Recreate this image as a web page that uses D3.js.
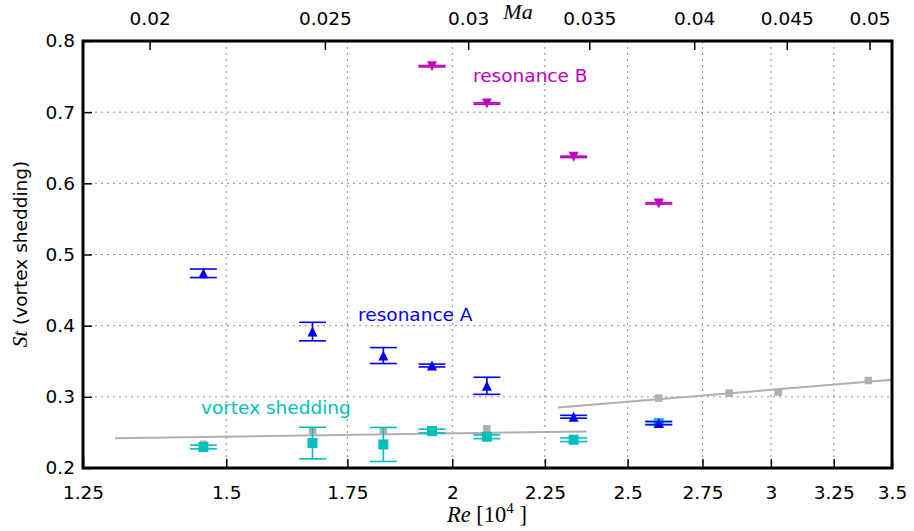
<!DOCTYPE html>
<html>
<head>
<meta charset="utf-8">
<script src="https://cdn.jsdelivr.net/npm/d3@7"></script>
<style>
  html, body { margin: 0; padding: 0; background: #fff; }
  svg { display: block; }
  .tick text { font-family: "DejaVu Sans", sans-serif; font-size: 18.5px; fill: #000; }
</style>
</head>
<body>
<svg id="chart" width="914" height="531"></svg>
<script>
// Reynolds numbers (x 10^4) of the measured cases
const reynolds = [1.457, 1.674, 1.832, 1.949, 2.090, 2.334, 2.601];

// Strouhal number of the vortex-shedding peak, with uncertainty
const stVortex  = [0.2295, 0.2351, 0.2331, 0.2519, 0.2439, 0.2397, 0.2631];
const errVortex = [0.0026, 0.0222, 0.0239, 0.0026, 0.0026, 0.0026, 0.0026];

// Resonance A
const stResA  = [0.4736, 0.3917, 0.3580, 0.3440, 0.3155, 0.2720, 0.2631];
const errResA = [0.0060, 0.0130, 0.0112, 0.0020, 0.0120, 0.0020, 0.0020];

// Resonance B (only the four higher Reynolds numbers)
const reynoldsB = [1.949, 2.090, 2.334, 2.601];
const stResB    = [0.7645, 0.7121, 0.6372, 0.5718];
const errResB   = [0.0010, 0.0010, 0.0010, 0.0010];

// Reference measurements and their linear trends
const reynoldsRef = [1.457, 1.674, 1.832, 2.090, 2.601, 2.845, 3.028, 3.396];
const stRef       = [0.2334, 0.2523, 0.2523, 0.2551, 0.2982, 0.3052, 0.3066, 0.3229];
const trendLowRe  = [1.302, 2.373];
const trendLowSt  = [0.2418, 0.2514];
const trendHighRe = [2.288, 3.5];
const trendHighSt = [0.2850, 0.3239];

// Axis ticks
const reTicks = [1.25, 1.5, 1.75, 2, 2.25, 2.5, 2.75, 3, 3.25, 3.5];
const reTickLabels = ["1.25", "1.5", "1.75", "2", "2.25", "2.5", "2.75", "3", "3.25", "3.5"];
const maTicks = [0.02, 0.025, 0.03, 0.035, 0.04, 0.045, 0.05];
const maTickLabels = ["0.02", "0.025", "0.03", "0.035", "0.04", "0.045", "0.05"];
const stTicks = [0.2, 0.3, 0.4, 0.5, 0.6, 0.7, 0.8];
const stTickLabels = ["0.2", "0.3", "0.4", "0.5", "0.6", "0.7", "0.8"];

// Mach number per unit Re[10^4]
const maPerRe = 0.0147;

// Curve annotations, placed in data units
const labelTexts = ["resonance B", "resonance A", "vortex shedding"];
const labelRe    = [2.0535, 1.7741, 1.4525];
const labelSt    = [0.742, 0.4067, 0.2762];

const colVortex = "#00bfbf", colA = "#0000ff", colB = "#bf00bf", colRef = "#b0b0b0";

const svg = d3.select("#chart");
const m = { left: 83, right: 892, top: 41, bottom: 468 };

const x = d3.scaleLog().domain([1.25, 3.5]).range([m.left, m.right]);
const xTop = d3.scaleLog().domain([1.25 * maPerRe, 3.5 * maPerRe]).range([m.left, m.right]);
const y = d3.scaleLinear().domain([0.2, 0.8]).range([m.bottom, m.top]);

svg.append("defs").append("clipPath").attr("id", "plotClip")
  .append("rect").attr("x", m.left).attr("y", m.top)
  .attr("width", m.right - m.left).attr("height", m.bottom - m.top);

// Dotted grid
const grid = svg.append("g").attr("stroke", "#8a8a8a").attr("stroke-width", 1)
  .attr("stroke-dasharray", "2,4");
grid.selectAll(".gx").data(reTicks.slice(1, -1)).join("line")
  .attr("x1", d => x(d)).attr("x2", d => x(d)).attr("y1", m.top).attr("y2", m.bottom);
grid.selectAll(".gy").data(stTicks.slice(1, -1)).join("line")
  .attr("y1", d => y(d)).attr("y2", d => y(d)).attr("x1", m.left).attr("x2", m.right);

const plot = svg.append("g").attr("clip-path", "url(#plotClip)");

// Trend lines of the reference data
const line = d3.line().x(d => x(d[0])).y(d => y(d[1]));
[[trendLowRe, trendLowSt], [trendHighRe, trendHighSt]].forEach(([rs, ss]) => {
  plot.append("path").datum(rs.map((r, i) => [r, ss[i]]))
    .attr("d", line).attr("fill", "none").attr("stroke", colRef).attr("stroke-width", 2);
});

// Reference squares
plot.selectAll(".ref").data(reynoldsRef.map((r, i) => [r, stRef[i]])).join("rect")
  .attr("x", d => x(d[0]) - 3.75).attr("y", d => y(d[1]) - 3.75)
  .attr("width", 7.5).attr("height", 7.5).attr("fill", colRef);

const capHalf = 13.5;
function errorSeries(res, vals, errs, color, marker) {
  const g = plot.append("g");
  const pts = res.map((r, i) => ({ r, v: vals[i], e: errs[i] }));
  const eb = g.selectAll(".eb").data(pts).join("g")
    .attr("stroke", color).attr("stroke-width", 1.6).attr("fill", "none");
  eb.append("line").attr("x1", d => x(d.r)).attr("x2", d => x(d.r))
    .attr("y1", d => y(d.v - d.e)).attr("y2", d => y(d.v + d.e));
  eb.append("line").attr("x1", d => x(d.r) - capHalf).attr("x2", d => x(d.r) + capHalf)
    .attr("y1", d => y(d.v + d.e)).attr("y2", d => y(d.v + d.e));
  eb.append("line").attr("x1", d => x(d.r) - capHalf).attr("x2", d => x(d.r) + capHalf)
    .attr("y1", d => y(d.v - d.e)).attr("y2", d => y(d.v - d.e));
  g.selectAll(".mk").data(pts).join("path")
    .attr("transform", d => `translate(${x(d.r)},${y(d.v)})`)
    .attr("d", marker).attr("fill", color);
}
const h = 5;
const squarePath = `M${-h},${-h}H${h}V${h}H${-h}Z`;
const triUp = `M0,${-h}L${h},${h}L${-h},${h}Z`;
const triDown = `M0,${h}L${h},${-h}L${-h},${-h}Z`;

errorSeries(reynolds, stVortex, errVortex, colVortex, squarePath);
errorSeries(reynolds, stResA, errResA, colA, triUp);
errorSeries(reynoldsB, stResB, errResB, colB, triDown);

// Annotations
const labelColors = [colB, colA, colVortex];
svg.selectAll(".lab").data(labelTexts).join("text")
  .attr("x", (d, i) => x(labelRe[i])).attr("y", (d, i) => y(labelSt[i]))
  .attr("fill", (d, i) => labelColors[i])
  .attr("font-family", "DejaVu Sans").attr("font-size", 18.5)
  .text(d => d);

// Axes (ticks pointing inward)
const ax = svg.append("g").attr("transform", `translate(0,${m.bottom})`)
  .call(d3.axisBottom(x).tickValues(reTicks)
    .tickFormat((d, i) => reTickLabels[i]).tickSizeInner(-9).tickSizeOuter(0).tickPadding(18));
const axT = svg.append("g").attr("transform", `translate(0,${m.top})`)
  .call(d3.axisTop(xTop).tickValues(maTicks)
    .tickFormat((d, i) => maTickLabels[i]).tickSizeInner(-9).tickSizeOuter(0).tickPadding(16));
const axL = svg.append("g").attr("transform", `translate(${m.left},0)`)
  .call(d3.axisLeft(y).tickValues(stTicks)
    .tickFormat((d, i) => stTickLabels[i]).tickSizeInner(-9).tickSizeOuter(0).tickPadding(8));
[ax, axT, axL].forEach(a => {
  a.select(".domain").remove();
  a.selectAll(".tick line").attr("stroke", "#000").attr("stroke-width", 1.5);
});

// Frame
svg.append("rect").attr("x", m.left).attr("y", m.top)
  .attr("width", m.right - m.left).attr("height", m.bottom - m.top)
  .attr("fill", "none").attr("stroke", "#000").attr("stroke-width", 3);

// Axis titles
const xl = svg.append("text").attr("x", 487).attr("y", 522).attr("text-anchor", "middle")
  .attr("font-family", "Liberation Serif, serif").attr("font-size", 22.5);
xl.append("tspan").attr("font-style", "italic").text("Re");
xl.append("tspan").text(" [10");
xl.append("tspan").attr("font-size", 15).attr("dy", -9).text("4");
xl.append("tspan").attr("dy", 9).text(" ]");

svg.append("text").attr("x", 518).attr("y", 19).attr("text-anchor", "middle")
  .attr("font-family", "Liberation Serif, serif").attr("font-style", "italic")
  .attr("font-size", 22).text("Ma");

const yl = svg.append("text").attr("transform", "translate(27,254) rotate(-90)")
  .attr("text-anchor", "middle").attr("font-size", 18.5);
yl.append("tspan").attr("font-family", "Liberation Serif, serif").attr("font-style", "italic")
  .attr("font-size", 21).text("St");
yl.append("tspan").attr("font-family", "DejaVu Sans").text(" (vortex shedding)");
</script>
</body>
</html>
